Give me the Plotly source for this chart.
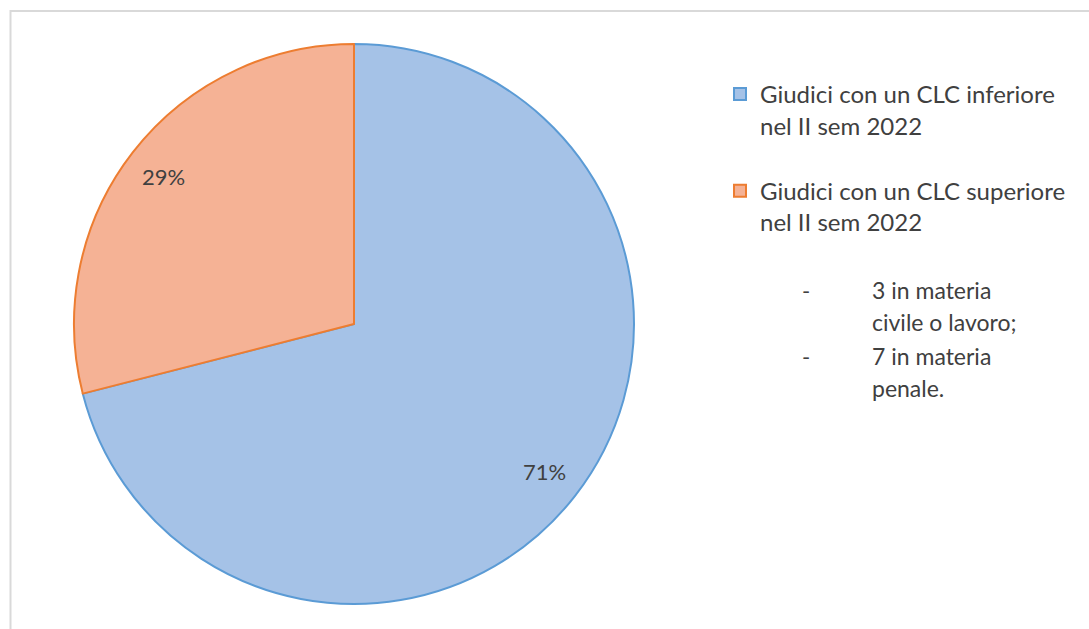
import math
import plotly.graph_objects as go

# Judges split by CLC compared with the second half of 2022
labels = [
    "Giudici con un CLC inferiore<br>nel II sem 2022<br> ",
    "Giudici con un CLC superiore<br>nel II sem 2022",
]
values = [71, 29]
fill_colors = ["#a5c2e7", "#f5b295"]
edge_colors = ["#5b9bd5", "#ed7d31"]

# Breakdown of the "superiore" group
detail_items = [["3 in materia", "civile o lavoro;"], ["7 in materia", "penale."]]

W, H = 1089, 629
FONT = "Lato, Calibri, sans-serif"
TEXT = "#404040"

# Pie geometry in pixels
CX, CY, R = 354, 324, 280

fig = go.Figure(
    go.Pie(
        labels=labels,
        values=values,
        sort=False,
        direction="clockwise",
        rotation=0,
        marker=dict(colors=fill_colors, line=dict(color=edge_colors, width=2)),
        textinfo="none",
        hoverinfo="label+percent",
        domain=dict(x=[(CX - R) / W, (CX + R) / W], y=[(H - CY - R) / H, (H - CY + R) / H]),
    )
)

# Percentage labels placed towards the rim, at each slice's mid-angle
total = sum(values)
start = 0.0
for v in values:
    frac = v / total
    mid = (start + frac / 2) * 2 * math.pi
    start += frac
    px = CX + 0.86 * R * math.sin(mid)
    py = CY - 0.86 * R * math.cos(mid)
    fig.add_annotation(x=px / W, y=1 - py / H, xref="paper", yref="paper",
                       text=f"{round(frac * 100)}%", showarrow=False,
                       xanchor="center", yanchor="middle",
                       font=dict(family=FONT, size=22, color=TEXT))

# Dashed list placed under the legend
line_y = [[290, 322], [356, 388]]
for item, ys in zip(detail_items, line_y):
    fig.add_annotation(x=800 / W, y=1 - ys[0] / H, xref="paper", yref="paper", text="-",
                       showarrow=False, xanchor="left", yanchor="middle",
                       font=dict(family=FONT, size=22, color=TEXT))
    for txt, y in zip(item, ys):
        fig.add_annotation(x=870 / W, y=1 - y / H, xref="paper", yref="paper", text=txt,
                           showarrow=False, xanchor="left", yanchor="middle", align="left",
                           font=dict(family=FONT, size=23, color=TEXT))

# Chart-area frame
fig.add_shape(type="rect", xref="paper", yref="paper",
              x0=10.5 / W, x1=1.02, y0=-0.02, y1=1 - 11 / H,
              line=dict(color="#d9d9d9", width=2), fillcolor="rgba(0,0,0,0)")

fig.update_layout(
    width=W, height=H,
    margin=dict(l=0, r=0, t=0, b=0),
    paper_bgcolor="white",
    plot_bgcolor="white",
    showlegend=True,
    legend=dict(
        x=720 / W, y=1 - 72 / H, xanchor="left", yanchor="top",
        valign="top", font=dict(family=FONT, size=24, color=TEXT),
        itemclick=False, traceorder="normal",
    ),
    font=dict(family=FONT, color=TEXT),
)

fig.write_html("out.html")
